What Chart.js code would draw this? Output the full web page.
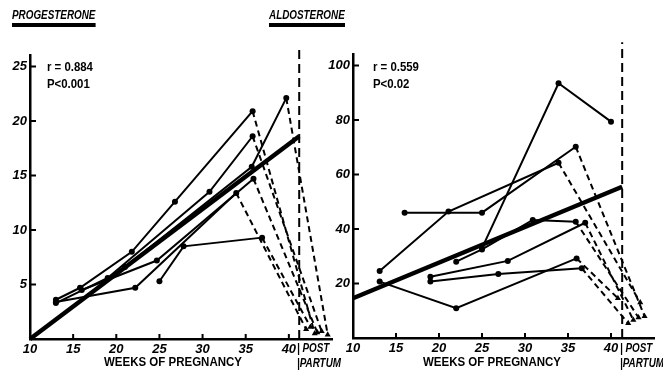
<!DOCTYPE html>
<html>
<head>
<meta charset="utf-8">
<script src="https://cdn.jsdelivr.net/npm/chart.js@4.4.1/dist/chart.umd.min.js"></script>
<style>
  body { margin: 0; background: #fff; }
  #wrap { position: relative; width: 663px; height: 378px; overflow: hidden; background: #fff;
          font-family: "Liberation Sans", Arial, sans-serif; font-weight: bold; color: #000; }
  canvas { position: absolute; top: 0; }
  .lbl { position: absolute; white-space: nowrap; line-height: 1; transform-origin: 0 0; }
  .head { font-size: 13px; font-style: italic; border-bottom: 4px solid #000; padding-bottom: 2px; transform: scaleX(0.76); }
  .stat { font-size: 12px; transform: scaleX(0.95); }
  .axt { font-size: 12.5px; transform: translateX(-50%) scaleX(0.92); transform-origin: 50% 0; }
  .pp { font-size: 12px; font-style: italic; transform: scaleX(0.82); }
</style>
</head>
<body>
<div id="wrap">
  <canvas id="progChart" width="340" height="378" style="left:0px"></canvas>
  <canvas id="aldoChart" width="345" height="378" style="left:318px"></canvas>

  <div class="lbl head" style="left:12px; top:8px;">PROGESTERONE</div>
  <div class="lbl head" style="left:269px; top:8px;">ALDOSTERONE</div>

  <div class="lbl stat" style="left:47px; top:61px;">r = 0.884</div>
  <div class="lbl stat" style="left:47px; top:78px;">P&lt;0.001</div>
  <div class="lbl stat" style="left:373px; top:61px;">r = 0.559</div>
  <div class="lbl stat" style="left:373px; top:78px;">P&lt;0.02</div>

  <div class="lbl axt" style="left:173px; top:356px;">WEEKS OF PREGNANCY</div>
  <div class="lbl axt" style="left:492px; top:356px;">WEEKS OF PREGNANCY</div>

  <div class="lbl pp" style="left:297px; top:342px;">| POST</div>
  <div class="lbl pp" style="left:297px; top:357px;">|PARTUM</div>
  <div class="lbl pp" style="left:620px; top:342px;">| POST</div>
  <div class="lbl pp" style="left:620px; top:357px;">|PARTUM</div>
</div>

<script>
// ---- data (weeks, value); last point of a dashed series = post partum
const weekTicks = [10, 15, 20, 25, 30, 35, 40];
const progTicks = [5, 10, 15, 20, 25];
const aldoTicks = [20, 40, 60, 80, 100];

const progWeeks = [
  [13, 15.8, 21.8, 26.8, 35.8, 43.0],
  [13, 19, 30.8, 35.8, 43.8],
  [13, 22.2, 33.9, 42.0],
  [25, 27.8, 36.9, 42.5],
  [16, 24.7, 35.9, 43.3],
  [21, 35.7, 39.7, 44.5]
];
const progValues = [
  [3.6, 4.7, 8.0, 12.6, 20.9, 0.5],
  [3.3, 5.6, 13.5, 18.6, 0.7],
  [3.4, 4.7, 13.4, 0.9],
  [5.3, 8.5, 9.3, 1.1],
  [4.5, 7.2, 14.7, 0.6],
  [6.6, 15.8, 22.1, 0.4]
];
const progPostPartum = [true, true, true, true, true, true];
const progRegression = [[10, 0], [41.2, 18.6]];
const progDelivery = 41.2;

const aldoWeeks = [
  [13.1, 21.1, 33.9, 43.4],
  [16, 25, 35.9, 43.9],
  [25, 33.9, 40],
  [13.1, 22, 36, 40.8],
  [19, 28, 37, 42.6],
  [19, 26.9, 36.6, 42.0],
  [22, 25, 30.9, 35.9, 43.2]
];
const aldoValues = [
  [24.6, 46.4, 64.3, 13],
  [46, 46, 70.2, 8],
  [33, 93.5, 79.4],
  [20.7, 10.9, 29.2, 14.6],
  [22.5, 28.3, 42.3, 6.6],
  [20.7, 23.5, 25.6, 5.4],
  [28, 32.5, 43.3, 42.7, 7.5]
];
const aldoPostPartum = [true, true, false, true, true, true, true];
const aldoRegression = [[10, 14.6], [41.3, 55.5]];
const aldoDelivery = 41.3;

const FONT = '"Liberation Sans", Arial, sans-serif';

// small tick marks drawn inside the plot, like the original
const innerTicks = {
  id: 'innerTicks',
  afterDraw(chart, args, opts) {
    const { ctx, chartArea, scales: { x, y } } = chart;
    ctx.save();
    ctx.strokeStyle = '#000';
    ctx.lineWidth = 2;
    ctx.beginPath();
    weekTicks.slice(1).forEach(w => {
      const px = x.getPixelForValue(w);
      ctx.moveTo(px, chartArea.bottom);
      ctx.lineTo(px, chartArea.bottom - 5);
    });
    opts.values.forEach(v => {
      const py = y.getPixelForValue(v);
      ctx.moveTo(chartArea.left, py);
      ctx.lineTo(chartArea.left + 6, py);
    });
    ctx.stroke();
    ctx.restore();
  }
};

function buildDatasets(weeks, values, postPartum, regression, delivery, top) {
  const sets = weeks.map((ws, i) => {
    const n = ws.length;
    const pp = postPartum[i];
    return {
      data: ws.map((w, j) => ({ x: w, y: values[i][j] })),
      borderColor: '#000',
      backgroundColor: '#000',
      borderWidth: 2,
      pointRadius: ctx => (pp && ctx.dataIndex === n - 1) ? 3.5 : 3,
      pointStyle: ctx => (pp && ctx.dataIndex === n - 1) ? 'triangle' : 'circle',
      pointBorderWidth: 0,
      segment: {
        borderDash: ctx => (pp && ctx.p1DataIndex === n - 1) ? [6, 4] : undefined
      },
      clip: false
    };
  });
  sets.push({
    data: regression.map(p => ({ x: p[0], y: p[1] })),
    borderColor: '#000', borderWidth: 4.5, pointRadius: 0, clip: false
  });
  sets.push({
    data: [{ x: delivery, y: 0 }, { x: delivery, y: top }],
    borderColor: '#000', borderWidth: 2, borderDash: [9, 5], pointRadius: 0, clip: false
  });
  return sets;
}

function makeChart(id, datasets, cfg) {
  return new Chart(document.getElementById(id), {
    type: 'scatter',
    data: { datasets: datasets },
    options: {
      responsive: false,
      animation: false,
      devicePixelRatio: 1,
      showLine: true,
      layout: { padding: { top: cfg.padTop, right: cfg.padRight, left: 0, bottom: 0 } },
      plugins: { legend: { display: false }, tooltip: { enabled: false }, innerTicks: { values: cfg.yTicks } },
      scales: {
        x: {
          type: 'linear', min: 10, max: 45,
          afterBuildTicks: s => { s.ticks = weekTicks.map(v => ({ value: v })); },
          afterFit: s => { s.height = cfg.xHeight; },
          border: { color: '#000', width: 2.5 },
          grid: { display: false, drawTicks: false },
          ticks: {
            padding: 3, color: '#000', maxRotation: 0, autoSkip: false,
            font: { family: FONT, size: 13, weight: 'bold', style: 'italic' }
          }
        },
        y: {
          type: 'linear', min: 0, max: cfg.yMax,
          afterBuildTicks: s => { s.ticks = cfg.yTicks.map(v => ({ value: v })); },
          afterFit: s => { s.width = cfg.yWidth; },
          border: { color: '#000', width: 2.5 },
          grid: { display: false, drawTicks: false },
          ticks: {
            padding: 3, color: '#000', autoSkip: false,
            font: { family: FONT, size: 13, weight: 'bold', style: 'italic' }
          }
        }
      }
    },
    plugins: [innerTicks]
  });
}

makeChart('progChart',
  buildDatasets(progWeeks, progValues, progPostPartum, progRegression, progDelivery, 26.8),
  { padTop: 55.6, padRight: 8, xHeight: 39, yWidth: 30, yMax: 26, yTicks: progTicks });

makeChart('aldoChart',
  buildDatasets(aldoWeeks, aldoValues, aldoPostPartum, aldoRegression, aldoDelivery, 108.5),
  { padTop: 54.6, padRight: 9, xHeight: 40, yWidth: 35, yMax: 104, yTicks: aldoTicks });
</script>
</body>
</html>
